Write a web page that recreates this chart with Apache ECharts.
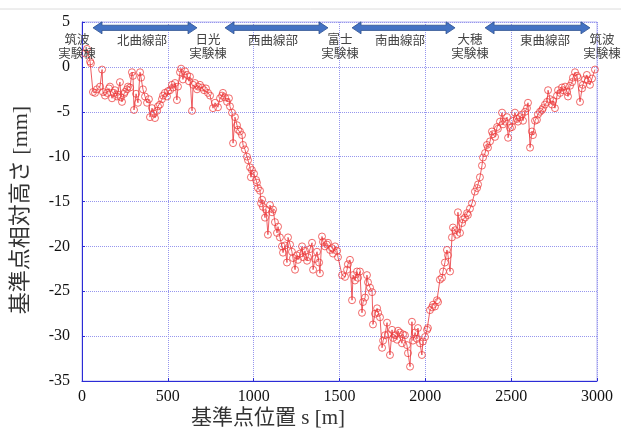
<!DOCTYPE html>
<html>
<head>
<meta charset="utf-8">
<script src="https://cdn.jsdelivr.net/npm/echarts@6/dist/echarts.min.js"></script>
<style>
  html, body { margin: 0; padding: 0; background: #fff; }
  #main { width: 621px; height: 430px; }
</style>
</head>
<body>
<div id="main"></div>
<script>
// 基準点位置 s [m]
var posX = [17, 29, 47, 52, 64, 76, 87, 105, 117, 122, 134, 146, 157, 163, 175, 186, 192, 204, 210, 221,
  227, 233, 245, 250, 262, 268, 280, 291, 297, 303, 315, 326, 338, 344, 355, 367, 379, 390, 396, 408,
  419, 425, 437, 443, 454, 466, 472, 483, 495, 501, 513, 524, 530, 542, 553, 559, 571, 577, 588, 600,
  612, 623, 629, 641, 647, 658, 670, 676, 687, 699, 711, 722, 734, 746, 763, 775, 792, 804, 816, 821,
  833, 845, 856, 862, 874, 880, 891, 903, 909, 920, 932, 938, 949, 961, 967, 979, 984, 990, 1002, 1014,
  1019, 1025, 1037, 1043, 1049, 1054, 1066, 1072, 1083, 1095, 1107, 1113, 1124, 1136, 1142, 1153, 1165, 1171, 1182, 1194,
  1200, 1212, 1223, 1229, 1241, 1252, 1258, 1270, 1282, 1287, 1299, 1311, 1316, 1328, 1340, 1346, 1357, 1369, 1381, 1386,
  1398, 1404, 1415, 1427, 1433, 1445, 1456, 1462, 1474, 1486, 1491, 1515, 1532, 1544, 1549, 1561, 1573, 1579, 1590, 1602,
  1608, 1619, 1631, 1637, 1649, 1660, 1666, 1678, 1690, 1695, 1707, 1719, 1725, 1736, 1748, 1754, 1765, 1777, 1782, 1794,
  1806, 1812, 1823, 1835, 1841, 1852, 1864, 1870, 1881, 1893, 1899, 1911, 1922, 1928, 1940, 1952, 1957, 1969, 1980, 1986,
  1998, 2010, 2015, 2027, 2039, 2045, 2056, 2068, 2074, 2085, 2097, 2103, 2114, 2126, 2132, 2144, 2155, 2161, 2173, 2184,
  2190, 2202, 2214, 2219, 2231, 2243, 2248, 2260, 2272, 2289, 2301, 2307, 2318, 2330, 2336, 2348, 2359, 2365, 2377, 2388,
  2394, 2406, 2418, 2423, 2435, 2447, 2453, 2464, 2476, 2482, 2493, 2505, 2511, 2522, 2534, 2540, 2551, 2563, 2569, 2581,
  2592, 2598, 2610, 2621, 2627, 2639, 2650, 2656, 2668, 2680, 2685, 2697, 2709, 2715, 2726, 2738, 2744, 2755, 2767, 2773,
  2785, 2796, 2802, 2814, 2826, 2831, 2843, 2855, 2860, 2872, 2884, 2889, 2901, 2913, 2918, 2930, 2941, 2947, 2959, 2971,
  2988];
// 基準点相対高さ [mm]
var heightY = [1.5, 2.0, 0.6, 0.4, -2.8, -2.9, -2.5, -2.2, -0.3, -2.8, -3.2, -2.9, -2.4, -2.2, -3.5, -2.9, -2.6, -3.3, -3.1, -1.7,
  -3.4, -3.9, -3.0, -2.8, -2.5, -2.2, -2.3, -0.6, -1.0, -4.8, -3.0, -4.0, -0.6, -1.2, -2.5, -3.3, -4.0, -3.6, -5.6, -4.6,
  -5.2, -5.7, -4.9, -4.4, -4.2, -3.6, -3.2, -2.9, -3.3, -2.7, -2.6, -2.0, -2.3, -1.8, -3.7, -2.2, -0.6, -0.2, -1.4, -0.5,
  -0.9, -1.6, -1.1, -4.9, -2.0, -1.8, -2.5, -2.2, -2.0, -2.3, -2.6, -2.4, -2.9, -3.2, -4.6, -4.0, -4.5, -3.5, -3.2, -2.9,
  -3.4, -3.9, -3.5, -4.4, -5.1, -8.5, -5.6, -6.5, -7.0, -7.2, -7.6, -8.7, -9.2, -10.0, -10.4, -11.2, -12.3, -11.5, -11.9, -12.6,
  -12.9, -13.5, -13.8, -15.2, -14.8, -15.6, -16.8, -15.9, -18.7, -15.4, -16.2, -15.9, -17.3, -18.5, -17.8, -19.0, -20.0, -20.7, -19.9, -21.8,
  -19.0, -19.8, -20.6, -21.3, -22.6, -21.0, -21.5, -20.8, -20.0, -21.2, -20.5, -21.6, -21.2, -20.3, -19.6, -22.6, -21.4, -20.6, -21.8, -23.0,
  -18.9, -19.5, -20.0, -19.8, -19.6, -20.4, -20.2, -20.8, -20.0, -20.5, -21.2, -23.2, -23.4, -22.6, -22.0, -21.5, -26.0, -23.2, -23.8, -22.8,
  -23.5, -22.8, -27.4, -26.2, -25.7, -23.2, -24.0, -24.6, -25.1, -28.7, -27.5, -26.9, -27.4, -27.9, -31.3, -30.5, -29.9, -28.5, -29.8, -32.1,
  -29.3, -30.2, -29.9, -30.4, -29.4, -29.6, -30.8, -29.8, -29.9, -31.0, -31.9, -33.4, -28.4, -30.5, -29.6, -30.3, -29.1, -30.8, -32.1, -30.6,
  -30.1, -29.3, -29.1, -27.1, -26.8, -26.5, -26.7, -26.0, -26.2, -23.7, -23.5, -22.8, -21.8, -20.4, -21.0, -22.8, -19.0, -17.9, -18.2, -18.7,
  -16.2, -18.5, -17.4, -17.0, -16.8, -16.3, -16.5, -15.8, -15.2, -13.9, -13.5, -13.1, -12.3, -11.0, -10.1, -9.6, -8.7, -9.0, -8.3, -7.2,
  -7.5, -7.8, -6.7, -6.9, -6.1, -5.1, -6.4, -6.1, -5.6, -7.9, -6.8, -6.7, -6.0, -5.1, -5.8, -6.1, -5.6, -5.3, -6.0, -5.0,
  -4.6, -4.0, -9.0, -7.2, -7.6, -6.0, -5.9, -5.3, -5.0, -4.8, -4.6, -4.2, -3.9, -2.6, -3.6, -4.2, -3.8, -4.6, -3.2, -2.6,
  -2.9, -2.3, -2.6, -2.2, -2.8, -3.3, -2.1, -1.7, -1.2, -0.6, -1.0, -1.2, -3.9, -2.4, -2.0, -1.4, -0.9, -1.5, -2.0, -1.3,
  -0.3];

var xTicks = [0, 500, 1000, 1500, 2000, 2500, 3000];
var yTicks = [-35, -30, -25, -20, -15, -10, -5, 0, 5];

// 区間（矢印）と実験棟の注記
var sectionNames = ['北曲線部', '西曲線部', '南曲線部', '東曲線部'];
var sectionFrom = [64, 833, 1573, 2348];
var sectionTo = [670, 1433, 2173, 2959];
var sectionLabelX = [350, 1113, 1852, 2697];
var stationNames = ['筑波\n実験棟', '日光\n実験棟', '富士\n実験棟', '大穂\n実験棟', '筑波\n実験棟'];
var stationX = [-29, 734, 1503, 2260, 3029];

var seriesData = posX.map(function (x, i) { return [x, heightY[i]]; });

var axisBlue = '#2b2bd6';
var gridBlue = '#9696ee';
var serif = '"Liberation Serif", "Times New Roman", serif';
var cjk = '"Liberation Serif", "Noto Sans CJK JP", sans-serif';

var myChart = echarts.init(document.getElementById('main'));

var option = {
    animation: false,
    grid: {
        left: 82, right: 24, top: 22, bottom: 49,
        show: true, borderColor: '#b4b4f0', borderWidth: 1
    },
    xAxis: {
        type: 'value',
        min: xTicks[0], max: xTicks[xTicks.length - 1], interval: 500,
        axisLine: { onZero: false, lineStyle: { color: axisBlue, width: 1 } },
        axisTick: { show: true, inside: true, length: 3, lineStyle: { color: axisBlue } },
        axisLabel: { color: '#111', fontFamily: serif, fontSize: 16, margin: 8,
                     formatter: function (v) { return String(v); } },
        splitLine: { show: true, lineStyle: { color: gridBlue, type: 'dotted', width: 1 } }
    },
    yAxis: {
        type: 'value',
        min: yTicks[0], max: yTicks[yTicks.length - 1], interval: 5,
        axisLine: { show: true, onZero: false, lineStyle: { color: axisBlue, width: 1 } },
        axisTick: { show: true, inside: true, length: 3, lineStyle: { color: axisBlue } },
        axisLabel: { color: '#111', fontFamily: serif, fontSize: 16, margin: 12,
                     formatter: function (v) { return String(v); } },
        splitLine: { show: true, lineStyle: { color: gridBlue, type: 'dotted', width: 1 } }
    },
    series: [{
        type: 'line',
        data: seriesData,
        symbol: 'circle',
        symbolSize: 7,
        lineStyle: { color: '#e8333a', width: 0.8 },
        itemStyle: { color: 'rgba(255,255,255,0)', borderColor: '#ec3b3b', borderWidth: 0.9, opacity: 0.85 },
        z: 3
    }]
};
myChart.setOption(option);

// 注記（矢印・区間名・実験棟名）を座標から配置
var g = [];
g.push({ type: 'line', shape: { x1: 0, y1: 9, x2: 621, y2: 9 }, style: { stroke: '#dcdcdc', lineWidth: 1 } });

var arrowY = myChart.convertToPixel('grid', [0, 4.35])[1];
for (var i = 0; i < sectionNames.length; i++) {
    var x1 = myChart.convertToPixel('grid', [sectionFrom[i], 0])[0];
    var x2 = myChart.convertToPixel('grid', [sectionTo[i], 0])[0];
    var hl = 9, hh = 6, sh = 2.6, yc = arrowY;
    g.push({
        type: 'polygon', z: 10,
        shape: { points: [
            [x1, yc], [x1 + hl, yc - hh], [x1 + hl, yc - sh], [x2 - hl, yc - sh], [x2 - hl, yc - hh],
            [x2, yc], [x2 - hl, yc + hh], [x2 - hl, yc + sh], [x1 + hl, yc + sh], [x1 + hl, yc + hh]
        ] },
        style: { fill: '#4472c4', stroke: '#2f528f', lineWidth: 0.8 }
    });
    var lp = myChart.convertToPixel('grid', [sectionLabelX[i], 3.0]);
    g.push({
        type: 'text', z: 10, x: lp[0], y: lp[1],
        style: { text: sectionNames[i], fill: '#444', fontSize: 12.5,
                 fontFamily: '"Noto Sans CJK JP", sans-serif', align: 'center', verticalAlign: 'middle' }
    });
}
for (var j = 0; j < stationNames.length; j++) {
    var sp = myChart.convertToPixel('grid', [stationX[j], 2.28]);
    g.push({
        type: 'text', z: 10, x: sp[0], y: sp[1],
        style: { text: stationNames[j], fill: '#444', fontSize: 12.5, lineHeight: 13.5,
                 fontFamily: '"Noto Sans CJK JP", sans-serif', align: 'center', verticalAlign: 'middle' }
    });
}
// 軸名
g.push({
    type: 'text', x: 268, y: 418,
    style: { text: '基準点位置 s [m]', fill: '#333', fontSize: 21, fontFamily: cjk,
             align: 'center', verticalAlign: 'middle' }
});
g.push({
    type: 'text', x: 21, y: 210, rotation: Math.PI / 2,
    style: { text: '基準点相対高さ [mm]', fill: '#333', fontSize: 22, fontFamily: cjk,
             align: 'center', verticalAlign: 'middle' }
});
myChart.setOption({ graphic: g });
</script>
</body>
</html>
